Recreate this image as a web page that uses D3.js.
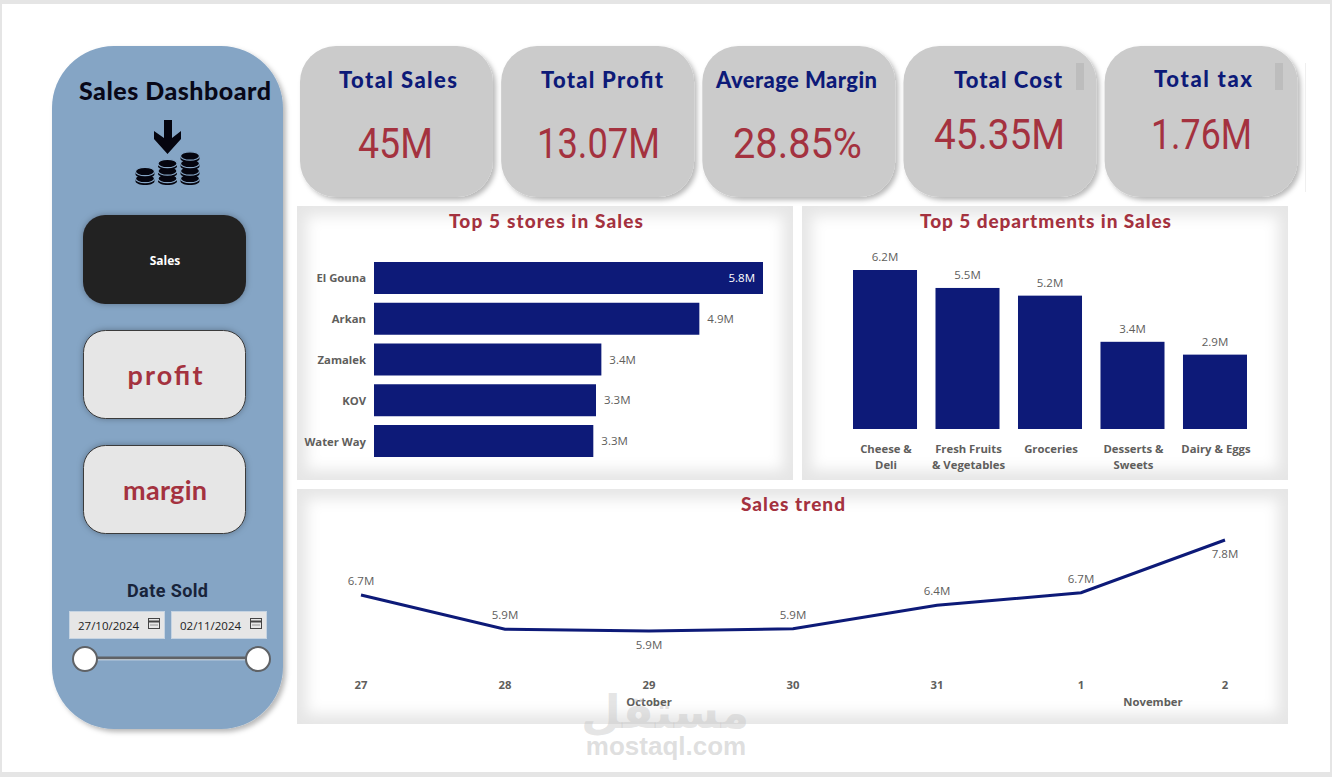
<!DOCTYPE html>
<html><head><meta charset="utf-8">
<script src="https://cdnjs.cloudflare.com/ajax/libs/d3/7.9.0/d3.min.js"></script>
<style>html,body{margin:0;padding:0;background:#e5e5e5;overflow:hidden}svg{display:block}</style>
</head><body>
<svg id="c" width="1332" height="777"></svg>
<script>
const storeNames=["El Gouna","Arkan","Zamalek","KOV","Water Way"];
const storeSales=[5.8,4.851,3.39,3.31,3.27];
const deptNames=[["Cheese &","Deli"],["Fresh Fruits","& Vegetables"],["Groceries"],["Desserts &","Sweets"],["Dairy & Eggs"]];
const deptSales=[6.2,5.5,5.2,3.4,2.9];
const trendDays=["27","28","29","30","31","1","2"];
const trendSales=[6.66,5.93,5.89,5.94,6.44,6.71,7.84];
const trendLabelBelow=[false,false,true,false,false,false,true];
const kpiTitles=["Total Sales","Total Profit","Average Margin","Total Cost","Total tax"];
const kpiValues=["45M","13.07M","28.85%","45.35M","1.76M"];
const buttons=["profit","margin"];
const dateRange=["27/10/2024","02/11/2024"];

const NAVY="#0d1a78",RED="#a4323f",HAND="'Lato','Open Sans',sans-serif",DIN="'Roboto',sans-serif",UI="'Open Sans',sans-serif",GREY="#605e5c";
const svg=d3.select("#c");
const defs=svg.append("defs");
function shadow(id,dx,dy,sd,op){const f=defs.append("filter").attr("id",id).attr("x","-20%").attr("y","-20%").attr("width","140%").attr("height","140%");
 f.append("feDropShadow").attr("dx",dx).attr("dy",dy).attr("stdDeviation",sd).attr("flood-color","#000").attr("flood-opacity",op);}
shadow("sh",3,3,2.5,.28);shadow("glow",0,0,3,.3);
const inset=defs.append("filter").attr("id","blur").attr("x","-5%").attr("y","-5%").attr("width","110%").attr("height","110%");
inset.append("feGaussianBlur").attr("stdDeviation",7);

svg.append("rect").attr("x",2).attr("y",4).attr("width",1328).attr("height",768).attr("fill","#fff");

// panels
function panel(x,y,w,h){
 const id="clip"+x+y;
 defs.append("clipPath").attr("id",id).append("rect").attr("x",x).attr("y",y).attr("width",w).attr("height",h);
 const g=svg.append("g").attr("clip-path",`url(#${id})`);
 g.append("rect").attr("x",x).attr("y",y).attr("width",w).attr("height",h).attr("fill","#e6e6e6");
 g.append("rect").attr("x",x+10).attr("y",y+10).attr("width",w-20).attr("height",h-20).attr("fill","#fff").attr("filter","url(#blur)");
}
panel(297,206,496,274);panel(802,206,486,274);panel(297,489,991,235);

function fitted(sel,len){return sel.attr("textLength",len).attr("lengthAdjust","spacing");}

// sidebar
svg.append("rect").attr("x",52).attr("y",46).attr("width",231).attr("height",683).attr("rx",62).attr("fill","#85a5c5").attr("filter","url(#sh)");
fitted(svg.append("text").attr("x",79).attr("y",100).attr("font-family",HAND).attr("font-weight",900).attr("font-size",25).attr("fill","#080818").text("Sales Dashboard"),192);

// icon: arrow + coin stacks
const icon=svg.append("g").attr("fill","#05050f");
icon.append("path").attr("d","M164 120h8v18l9-7v8l-13.500 15-13.500-15v-8l10 7z");
function stack(cx,topY,n,gap){
 for(let i=n-1;i>=0;i--){const y=topY+i*gap;
  icon.append("path").attr("d",`M${cx-9.500} ${y}v2.500c0 2.500 4.500 4 9.500 4s9.500-1.500 9.500-4v-2.500z`);
  icon.append("ellipse").attr("cx",cx).attr("cy",y).attr("rx",9.500).attr("ry",4.200).attr("stroke","#85a5c5").attr("stroke-width",1.200);
 }
}
stack(190,156,4,7.500);stack(167.500,163.500,3,7.500);stack(145,171.500,2,7);

// sales button
svg.append("rect").attr("x",83).attr("y",215).attr("width",163).attr("height",89).attr("rx",22).attr("fill","#242122").attr("filter","url(#glow)");
svg.append("text").attr("x",165).attr("y",265).attr("text-anchor","middle").attr("font-family",UI).attr("font-weight",700).attr("font-size",12).attr("fill","#fff").text("Sales");
// other buttons
const btnY=d3.scaleOrdinal().domain(buttons).range([330,445]);
const btnLen=[75,84];
svg.selectAll("g.btn").data(buttons).join("g").attr("class","btn").each(function(d,i){
 const g=d3.select(this),y=btnY(d);
 g.append("rect").attr("x",83.500).attr("y",y+.5).attr("width",162).attr("height",88).attr("rx",22).attr("fill","#e6e6e6").attr("stroke","#3a3a3a").attr("stroke-width",1).attr("filter","url(#glow)");
 fitted(g.append("text").attr("x",165-btnLen[i]/2).attr("y",y+55).attr("font-family",HAND).attr("font-weight",700).attr("font-size",27).attr("fill",RED).text(d),btnLen[i]);
});

// date slicer
fitted(svg.append("text").attr("x",127).attr("y",597).attr("font-family",DIN).attr("font-weight",700).attr("font-size",18).attr("fill","#18233a").text("Date Sold"),81);
const dateX=d3.scaleOrdinal().domain(dateRange).range([69,171]);
dateRange.forEach(d=>{
 const x=dateX(d);
 svg.append("rect").attr("x",x+.5).attr("y",611.500).attr("width",95).attr("height",27).attr("fill","#e6e6e6").attr("stroke","#c6d4e2");
 svg.append("text").attr("x",x+9).attr("y",630).attr("font-family",UI).attr("font-size",11.500).attr("fill","#222").text(d);
 const c=svg.append("g").attr("fill","none").attr("stroke","#444").attr("stroke-width",1);
 c.append("rect").attr("x",x+79.500).attr("y",618.500).attr("width",11).attr("height",10);
 c.append("line").attr("x1",x+79.500).attr("x2",x+90.500).attr("y1",621.500).attr("y2",621.500).attr("stroke-width",2);
 c.append("line").attr("x1",x+81.500).attr("x2",x+88.500).attr("y1",625).attr("y2",625).attr("stroke-dasharray","1 1");
});
svg.append("line").attr("x1",85).attr("x2",258).attr("y1",658).attr("y2",658).attr("stroke","#5f6266").attr("stroke-width",3);
svg.append("line").attr("x1",85).attr("x2",258).attr("y1",659.800).attr("y2",659.800).attr("stroke","#fff").attr("stroke-width",.7);
[85,258].forEach(x=>svg.append("circle").attr("cx",x).attr("cy",659).attr("r",12).attr("fill","#fff").attr("stroke","#5f6266").attr("stroke-width",2));

// KPI cards
const cardX=d3.scaleBand().domain(kpiTitles).range([300,1297.500]).paddingInner(0.041);
const cardTitleX=[339,541,716,954,1154], cardTitleLen=[118,122,161,108,98], cardTitleY=[88,88,88,88,87];
const cardValX=[358,537,733,934,1151], cardValLen=[75,123,129,131,101], cardValY=[158,158,158,149,149];
kpiTitles.forEach((t,i)=>{
 const x=cardX(t),w=cardX.bandwidth();
 svg.append("rect").attr("x",x).attr("y",46).attr("width",w).attr("height",151).attr("rx",36).attr("fill","#cbcbcb").attr("filter","url(#sh)");
 fitted(svg.append("text").attr("x",cardTitleX[i]).attr("y",cardTitleY[i]).attr("font-family",HAND).attr("font-weight",900).attr("font-size",22).attr("fill",NAVY).text(t),cardTitleLen[i]);
 svg.append("text").attr("x",cardValX[i]).attr("y",cardValY[i]).attr("font-family",DIN).attr("font-size",42).attr("fill",RED)
  .attr("textLength",cardValLen[i]).attr("lengthAdjust","spacingAndGlyphs").text(kpiValues[i]);
});
[1076,1275].forEach(x=>svg.append("rect").attr("x",x).attr("y",63).attr("width",8).attr("height",27).attr("fill","#bdbdbd"));
svg.append("line").attr("x1",1305.500).attr("x2",1305.500).attr("y1",63).attr("y2",192).attr("stroke","#efefef");

// panel titles
function title(t,x,y,len){fitted(svg.append("text").attr("x",x).attr("y",y).attr("font-family",HAND).attr("font-weight",900).attr("font-size",19).attr("fill",RED).text(t),len);}
title("Top 5 stores in Sales",449,228,194);title("Top 5 departments in Sales",920,228,251);title("Sales trend",741,511,104);

const fmt=v=>d3.format(".1f")(v)+"M";
// stores bars
const sx=d3.scaleLinear().domain([0,5.8]).range([374,763]);
const sy=d3.scaleBand().domain(storeNames).range([262,457]).paddingInner(.215);
const gS=svg.append("g");
gS.selectAll("rect").data(storeSales).join("rect").attr("x",sx(0)).attr("y",(d,i)=>sy(storeNames[i])).attr("width",d=>sx(d)-sx(0)).attr("height",sy.bandwidth()).attr("fill",NAVY);
gS.selectAll("text.v").data(storeSales).join("text").attr("class","v")
 .attr("x",(d,i)=>i==0?sx(d)-8:sx(d)+8).attr("y",(d,i)=>sy(storeNames[i])+sy.bandwidth()/2+4).attr("text-anchor",(d,i)=>i==0?"end":"start")
 .attr("font-family",UI).attr("font-size",11.500).attr("fill",(d,i)=>i==0?"#fff":GREY).text(fmt);
gS.selectAll("text.n").data(storeNames).join("text").attr("class","n").attr("x",366).attr("y",d=>sy(d)+sy.bandwidth()/2+4.500).attr("text-anchor","end")
 .attr("font-family",UI).attr("font-weight",700).attr("font-size",11.300).attr("fill",GREY).text(d=>d);

// department bars
const dKeys=deptNames.map(d=>d.join(" "));
const dx=d3.scaleBand().domain(dKeys).range([853,1247]).paddingInner(.224);
const dy=d3.scaleLinear().domain([0,6.2]).range([429,270]);
const gD=svg.append("g");
gD.selectAll("rect").data(deptSales).join("rect").attr("x",(d,i)=>dx(dKeys[i])).attr("y",d=>dy(d)).attr("width",dx.bandwidth()).attr("height",d=>dy(0)-dy(d)).attr("fill",NAVY);
gD.selectAll("text.v").data(deptSales).join("text").attr("class","v").attr("x",(d,i)=>dx(dKeys[i])+dx.bandwidth()/2).attr("y",d=>dy(d)-9).attr("text-anchor","middle")
 .attr("font-family",UI).attr("font-size",11.500).attr("fill",GREY).text(fmt);
deptNames.forEach((lines,i)=>lines.forEach((l,j)=>{
 gD.append("text").attr("x",dx(dKeys[i])+dx.bandwidth()/2+1).attr("y",453+j*16).attr("text-anchor","middle").attr("font-family",UI).attr("font-weight",700).attr("font-size",11.300).attr("fill",GREY).text(l);
}));

// trend
const tx=d3.scalePoint().domain(trendDays).range([361,1225]);
const ty=d3.scaleLinear().domain([5.89,7.84]).range([631,540]);
const line=d3.line().x((d,i)=>tx(trendDays[i])).y(d=>ty(d)).curve(d3.curveLinear);
svg.append("path").attr("d",line(trendSales)).attr("fill","none").attr("stroke",NAVY).attr("stroke-width",3);
svg.selectAll("text.tv").data(trendSales).join("text").attr("class","tv").attr("x",(d,i)=>tx(trendDays[i])).attr("y",(d,i)=>ty(d)+(trendLabelBelow[i]?18:-10))
 .attr("text-anchor","middle").attr("font-family",UI).attr("font-size",11.500).attr("fill",GREY).text(fmt);
svg.selectAll("text.td").data(trendDays).join("text").attr("class","td").attr("x",d=>tx(d)).attr("y",689).attr("text-anchor","middle").attr("font-family",UI).attr("font-weight",700).attr("font-size",11.300).attr("fill",GREY).text(d=>d);
[["October",649],["November",1153]].forEach(([t,x])=>svg.append("text").attr("x",x).attr("y",706).attr("text-anchor","middle").attr("font-family",UI).attr("font-weight",700).attr("font-size",11.300).attr("fill",GREY).text(t));

// watermark
svg.append("text").attr("x",665).attr("y",728).attr("text-anchor","middle").attr("font-family","'DejaVu Sans',sans-serif").attr("font-weight",700).attr("font-size",46).attr("fill","#c4c4c4").attr("fill-opacity",.45).text("مستقل");
svg.append("text").attr("x",666).attr("y",755).attr("text-anchor","middle").attr("font-family","'Liberation Sans',sans-serif").attr("font-weight",700).attr("font-size",26).attr("fill","#c4c4c4").attr("fill-opacity",.55).text("mostaql.com");
</script>
</body></html>
